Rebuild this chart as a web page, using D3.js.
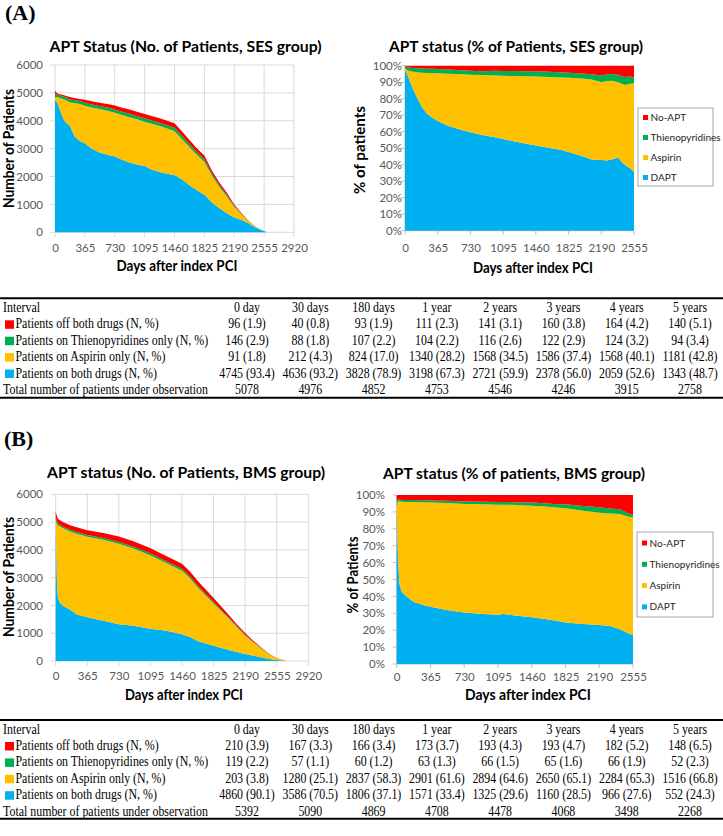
<!DOCTYPE html>
<html>
<head>
<meta charset="utf-8">
<script src="https://cdn.jsdelivr.net/npm/d3@7"></script>
<style>
  body {margin: 0; background: #fff;}
  svg {display: block;}
</style>
</head>
<body>
<svg id="fig" width="723" height="836"></svg>
<script>
//Variables
const keys = ["dapt", "aspirin", "thieno", "noapt"]; //stack order, bottom -> top
const colorArr = ["#00b0f0", "#ffc000", "#00b050", "#ff0000"];
const legendNames = ["DAPT", "Aspirin", "Thienopyridines", "No-APT"];
const dayTicks = [0, 365, 730, 1095, 1460, 1825, 2190, 2555, 2920];
const countTicks = [0, 1000, 2000, 3000, 4000, 5000, 6000];
const pctTicks = [0, 10, 20, 30, 40, 50, 60, 70, 80, 90, 100];

//SES group, number of patients
const sesDays = [0, 30, 60, 100, 140, 180, 240, 300, 365, 450, 545, 640, 730, 820, 910, 1000, 1095, 1180, 1280, 1370, 1460, 1550, 1640, 1730, 1825, 1920, 2010, 2100, 2190, 2280, 2370, 2460, 2555, 2600];
const sesDapt = [4745, 4636, 4400, 4080, 3910, 3828, 3440, 3270, 3198, 3000, 2860, 2780, 2721, 2600, 2500, 2430, 2378, 2250, 2160, 2100, 2059, 1900, 1700, 1520, 1343, 1060, 860, 680, 530, 440, 320, 150, 35, 0];
const sesAsp = [91, 212, 418, 695, 820, 824, 1200, 1330, 1340, 1480, 1565, 1580, 1568, 1610, 1630, 1620, 1586, 1640, 1650, 1620, 1568, 1450, 1360, 1270, 1181, 960, 760, 600, 390, 200, 60, 20, 3, 0];
const sesThieno = [146, 88, 90, 95, 100, 107, 105, 105, 104, 105, 108, 112, 116, 115, 118, 120, 122, 120, 120, 120, 124, 115, 110, 100, 94, 80, 65, 60, 35, 20, 10, 5, 1, 0];
const sesNoApt = [96, 40, 42, 50, 60, 93, 75, 80, 111, 115, 117, 128, 141, 145, 152, 150, 160, 160, 160, 160, 164, 155, 150, 130, 140, 100, 90, 80, 45, 20, 10, 5, 1, 0];

//SES group, % of patients
const sesPctDays = [0, 30, 56, 93, 130, 186, 242, 298, 365, 484, 633, 730, 857, 1005, 1095, 1228, 1340, 1460, 1600, 1749, 1825, 1972, 2083, 2195, 2250, 2307, 2381, 2420, 2456, 2511, 2555];
const sesPctDapt = [97.5, 94.0, 90.3, 85.2, 81.2, 75.2, 71.1, 68.7, 66.5, 63.4, 61.0, 59.6, 58.0, 56.6, 55.6, 54.0, 52.9, 51.7, 50.3, 48.9, 47.7, 45.3, 43.2, 42.8, 42.5, 43.2, 44.4, 41.5, 39.8, 37.8, 35.8];
const sesPctAsp = [0.8, 3.3, 6.5, 11.2, 14.9, 20.6, 24.5, 26.8, 28.9, 31.7, 33.8, 34.9, 36.3, 37.5, 38.3, 39.7, 40.7, 41.8, 42.9, 44.0, 45.0, 46.9, 48.4, 47.2, 48.3, 47.7, 45.6, 47.5, 48.5, 51.2, 53.5];
const sesPctThieno = [1.2, 1.7, 2.0, 2.2, 2.4, 2.6, 2.6, 2.6, 2.6, 2.6, 2.5, 2.5, 2.3, 2.8, 2.9, 3.1, 3.1, 3.1, 3.2, 3.2, 3.1, 3.1, 3.2, 4.0, 3.8, 4.1, 4.5, 4.6, 4.9, 4.5, 3.6];
const sesPctNoApt = [0.5, 1.0, 1.2, 1.4, 1.5, 1.6, 1.8, 1.9, 2.0, 2.3, 2.7, 3.0, 3.4, 3.1, 3.2, 3.2, 3.3, 3.4, 3.6, 3.9, 4.2, 4.7, 5.2, 6.0, 5.4, 5.0, 5.5, 6.4, 6.8, 6.5, 7.1];

//BMS group, number of patients
const bmsDays = [0, 8, 15, 27, 50, 89, 166, 243, 365, 551, 730, 898, 1090, 1283, 1460, 1552, 1648, 1825, 1979, 2080, 2190, 2290, 2383, 2470, 2555, 2670];
const bmsDapt = [4860, 3830, 2750, 2270, 2090, 1970, 1850, 1670, 1571, 1450, 1325, 1270, 1160, 1090, 966, 860, 710, 552, 410, 330, 250, 190, 130, 70, 35, 0];
const bmsAsp = [203, 1150, 2180, 2610, 2750, 2797, 2810, 2912, 2901, 2910, 2894, 2780, 2650, 2430, 2284, 2120, 1920, 1516, 1180, 940, 670, 470, 305, 165, 65, 0];
const bmsThieno = [119, 100, 90, 60, 58, 58, 60, 62, 63, 64, 66, 66, 65, 65, 66, 63, 60, 52, 40, 32, 25, 18, 12, 6, 3, 0];
const bmsNoApt = [210, 200, 190, 170, 168, 167, 166, 170, 173, 186, 193, 194, 193, 185, 182, 177, 170, 148, 110, 70, 65, 35, 23, 10, 5, 0];

//BMS group, % of patients
const bmsPctDays = [0, 14, 29, 54, 108, 180, 288, 365, 540, 730, 937, 1095, 1153, 1300, 1460, 1600, 1730, 1825, 2018, 2190, 2306, 2414, 2505, 2555];
const bmsPctDapt = [90.1, 63.5, 47.7, 42.8, 39.8, 36.9, 34.9, 33.9, 32.0, 30.4, 29.6, 29.2, 29.6, 28.6, 27.6, 26.6, 25.6, 24.5, 23.7, 23.1, 22.5, 20.5, 18.1, 17.2];
const bmsPctAsp = [3.8, 33.0, 48.5, 53.2, 56.1, 58.9, 60.8, 61.6, 63.3, 64.3, 64.9, 65.1, 64.7, 65.5, 66.1, 66.6, 67.0, 67.6, 67.0, 66.4, 66.6, 68.3, 69.1, 69.6];
const bmsPctThieno = [2.2, 0.9, 1.1, 1.1, 1.1, 1.2, 1.2, 1.3, 1.3, 1.5, 1.5, 1.6, 1.6, 1.6, 1.8, 1.9, 2.0, 2.4, 2.8, 3.2, 2.9, 2.7, 2.0, 1.4];
const bmsPctNoApt = [3.9, 2.6, 2.7, 2.9, 3.0, 3.0, 3.1, 3.2, 3.4, 3.8, 4.0, 4.1, 4.1, 4.3, 4.5, 4.9, 5.4, 5.5, 6.5, 7.3, 8.0, 8.5, 10.8, 11.8];

//Tables
const intervals = ["0 day", "30 days", "180 days", "1 year", "2 years", "3 years", "4 years", "5 years"];
const rowLabels = ["Patients off both drugs (N, %)", "Patients on Thienopyridines only (N, %)", "Patients on Aspirin only (N, %)", "Patients on both drugs (N, %)"];
const rowColors = ["#ff0000", "#00b050", "#ffc000", "#00b0f0"];
const sesOff = ["96 (1.9)", "40 (0.8)", "93 (1.9)", "111 (2.3)", "141 (3.1)", "160 (3.8)", "164 (4.2)", "140 (5.1)"];
const sesThienoOnly = ["146 (2.9)", "88 (1.8)", "107 (2.2)", "104 (2.2)", "116 (2.6)", "122 (2.9)", "124 (3.2)", "94 (3.4)"];
const sesAspOnly = ["91 (1.8)", "212 (4.3)", "824 (17.0)", "1340 (28.2)", "1568 (34.5)", "1586 (37.4)", "1568 (40.1)", "1181 (42.8)"];
const sesBoth = ["4745 (93.4)", "4636 (93.2)", "3828 (78.9)", "3198 (67.3)", "2721 (59.9)", "2378 (56.0)", "2059 (52.6)", "1343 (48.7)"];
const sesTotal = ["5078", "4976", "4852", "4753", "4546", "4246", "3915", "2758"];
const bmsOff = ["210 (3.9)", "167 (3.3)", "166 (3.4)", "173 (3.7)", "193 (4.3)", "193 (4.7)", "182 (5.2)", "148 (6.5)"];
const bmsThienoOnly = ["119 (2.2)", "57 (1.1)", "60 (1.2)", "63 (1.3)", "66 (1.5)", "65 (1.6)", "66 (1.9)", "52 (2.3)"];
const bmsAspOnly = ["203 (3.8)", "1280 (25.1)", "2837 (58.3)", "2901 (61.6)", "2894 (64.6)", "2650 (65.1)", "2284 (65.3)", "1516 (66.8)"];
const bmsBoth = ["4860 (90.1)", "3586 (70.5)", "1806 (37.1)", "1571 (33.4)", "1325 (29.6)", "1160 (28.5)", "966 (27.6)", "552 (24.3)"];
const bmsTotal = ["5392", "5090", "4869", "4708", "4478", "4068", "3498", "2268"];

const svg = d3.select("#fig");
const sans = "Lato, 'Open Sans', sans-serif";
const serif = "'Liberation Serif', 'Times New Roman', serif";

//Functions
function fit(sel, w) {
  return sel.attr("textLength", w).attr("lengthAdjust", "spacingAndGlyphs");
}

function drawChart(c) {
  let rows = c.days.map((d, i) => ({day: d, dapt: c.dapt[i], aspirin: c.asp[i], thieno: c.thieno[i], noapt: c.noapt[i]}));
  let series = d3.stack().keys(keys)(rows);
  let xMax = c.pct ? 2555 : 2920;
  let x = d3.scaleLinear().domain([0, xMax]).range([c.left, c.right]);
  let y = d3.scaleLinear().domain([0, c.pct ? 100 : 6000]).range([c.bottom, c.top]);
  let xT = dayTicks.filter(d => d <= xMax);
  let yT = c.pct ? pctTicks : countTicks;
  let g = svg.append("g");

  //grid (count charts) or short ticks (percent charts)
  if (!c.pct) {
    g.selectAll(".hg").data(yT).enter().append("line")
      .attr("x1", c.left - 5).attr("x2", c.right).attr("y1", d => y(d)).attr("y2", d => y(d))
      .attr("stroke", "#d9d9d9").attr("stroke-width", 1);
    g.selectAll(".vg").data(xT).enter().append("line")
      .attr("x1", d => x(d)).attr("x2", d => x(d)).attr("y1", c.top).attr("y2", c.bottom + 5)
      .attr("stroke", "#d9d9d9").attr("stroke-width", 1);
  } else {
    g.selectAll(".ht").data(yT).enter().append("line")
      .attr("x1", c.left - 4).attr("x2", c.left).attr("y1", d => y(d)).attr("y2", d => y(d))
      .attr("stroke", "#bfbfbf");
    g.selectAll(".vt").data(xT).enter().append("line")
      .attr("x1", d => x(d)).attr("x2", d => x(d)).attr("y1", c.bottom).attr("y2", c.bottom + 4)
      .attr("stroke", "#bfbfbf");
    g.append("line").attr("x1", c.left).attr("x2", c.left).attr("y1", c.top).attr("y2", c.bottom).attr("stroke", "#bfbfbf");
    g.append("line").attr("x1", c.left).attr("x2", c.right).attr("y1", c.bottom).attr("y2", c.bottom).attr("stroke", "#bfbfbf");
  }

  //stacked areas
  let area = d3.area().x(d => x(d.data.day)).y0(d => y(d[0])).y1(d => y(d[1]));
  g.selectAll(".layer").data(series).enter().append("path")
    .attr("d", area).attr("fill", (d, i) => colorArr[i]);

  //axes
  let yAxis = d3.axisLeft(y).tickValues(yT).tickSize(0).tickPadding(0)
    .tickFormat(d => c.pct ? d + "%" : String(d));
  g.append("g").attr("class", "yax").attr("transform", "translate(" + c.yLab + ",0)").call(yAxis)
    .call(a => a.select(".domain").remove());
  let xAxis = d3.axisBottom(x).tickValues(xT).tickSize(0).tickPadding(0).tickFormat(d => String(d));
  g.append("g").attr("class", "xax").attr("transform", "translate(0," + c.xLab + ")").call(xAxis)
    .call(a => a.select(".domain").remove());
  g.selectAll(".tick text").attr("font-family", sans).attr("font-size", 11.5).attr("fill", "#595959");
  g.selectAll(".xax .tick text").attr("dy", "0.71em");

  //titles
  fit(g.append("text").text(c.title).attr("x", c.tx).attr("y", c.ty).attr("text-anchor", "middle")
    .attr("font-family", sans).attr("font-weight", "bold").attr("font-size", 16), c.tw);
  fit(g.append("text").text("Days after index PCI").attr("x", c.xtx).attr("y", c.xty).attr("text-anchor", "middle")
    .attr("font-family", sans).attr("font-weight", "bold").attr("font-size", 15), c.xtw);
  fit(g.append("text").text(c.yTitle).attr("transform", "translate(" + c.ytx + "," + c.yty + ") rotate(-90)")
    .attr("text-anchor", "middle").attr("dy", "0.35em")
    .attr("font-family", sans).attr("font-weight", "bold").attr("font-size", 15), c.ytw);

  //legend
  if (c.legend) {
    let L = c.legend;
    g.append("rect").attr("x", L.x).attr("y", L.y).attr("width", L.w).attr("height", L.h)
      .attr("fill", "#fff").attr("stroke", "#a6a6a6");
    let order = [3, 2, 1, 0];
    order.forEach((k, i) => {
      let cy = L.y + L.first + i * L.step;
      g.append("rect").attr("x", L.x + 5).attr("y", cy - 2.5).attr("width", 5).attr("height", 5).attr("fill", colorArr[k]);
      g.append("text").text(legendNames[k]).attr("x", L.x + 12.5).attr("y", cy).attr("dy", "0.35em")
        .attr("font-family", sans).attr("font-size", 10).attr("fill", "#262626");
    });
  }
}

function cell(g, txt, x, y, anchor) {
  g.append("text").text(txt)
    .attr("transform", "translate(" + x + "," + y + ") scale(0.85,1)")
    .attr("text-anchor", anchor).attr("font-family", serif).attr("font-size", 14).attr("fill", "#000");
}

function drawTable(t) {
  let g = svg.append("g");
  let col = d3.scalePoint().domain(intervals).range([247, 690]);
  let rowY = d3.scaleLinear().domain([0, 5]).range([t.top + 13.6, t.top + 95.6]);
  g.append("line").attr("x1", 0).attr("x2", 723).attr("y1", t.top).attr("y2", t.top).attr("stroke", "#000").attr("stroke-width", 2);
  g.append("line").attr("x1", 0).attr("x2", 723).attr("y1", t.bottom).attr("y2", t.bottom).attr("stroke", "#000").attr("stroke-width", 2);
  cell(g, "Interval", 3, rowY(0), "start");
  intervals.forEach(d => cell(g, d, col(d), rowY(0), "middle"));
  t.rows.forEach((r, i) => {
    g.append("rect").attr("x", 5).attr("y", rowY(i + 1) - 8).attr("width", 9).attr("height", 8.5).attr("fill", rowColors[i]);
    cell(g, rowLabels[i], 15.5, rowY(i + 1), "start");
    r.forEach((v, j) => cell(g, v, col(intervals[j]), rowY(i + 1), "middle"));
  });
  cell(g, "Total number of patients under observation", 3, rowY(5), "start");
  t.total.forEach((v, j) => cell(g, v, col(intervals[j]), rowY(5), "middle"));
}

//Execute
svg.append("text").text("(A)").attr("x", 5).attr("y", 20).attr("font-family", serif).attr("font-weight", "bold").attr("font-size", 22);
svg.append("text").text("(B)").attr("x", 4).attr("y", 446).attr("font-family", serif).attr("font-weight", "bold").attr("font-size", 22);

drawChart({days: sesDays, dapt: sesDapt, asp: sesAsp, thieno: sesThieno, noapt: sesNoApt, pct: false,
  left: 55, right: 294, top: 65, bottom: 232.3, yLab: 43, xLab: 244,
  title: "APT Status (No. of Patients, SES group)", tx: 185.5, ty: 51.5, tw: 272,
  xtx: 177, xty: 271, xtw: 121, yTitle: "Number of Patients", ytx: 9, yty: 148.5, ytw: 119});

drawChart({days: sesPctDays, dapt: sesPctDapt, asp: sesPctAsp, thieno: sesPctThieno, noapt: sesPctNoApt, pct: true,
  left: 405, right: 634, top: 65.7, bottom: 230.7, yLab: 402, xLab: 244,
  title: "APT status (% of Patients, SES group)", tx: 516, ty: 51.5, tw: 254,
  xtx: 533, xty: 273, xtw: 120, yTitle: "% of patients", ytx: 360, yty: 150, ytw: 88,
  legend: {x: 638, y: 108, w: 75, h: 78, first: 9.5, step: 20}});

drawChart({days: bmsDays, dapt: bmsDapt, asp: bmsAsp, thieno: bmsThieno, noapt: bmsNoApt, pct: false,
  left: 55.7, right: 308.3, top: 494.3, bottom: 661, yLab: 43, xLab: 672,
  title: "APT status (No. of Patients, BMS group)", tx: 186, ty: 478, tw: 278,
  xtx: 184, xty: 700, xtw: 118, yTitle: "Number of Patients", ytx: 9, yty: 577, ytw: 120});

drawChart({days: bmsPctDays, dapt: bmsPctDapt, asp: bmsPctAsp, thieno: bmsPctThieno, noapt: bmsPctNoApt, pct: true,
  left: 396.7, right: 633, top: 495, bottom: 664, yLab: 385, xLab: 673,
  title: "APT status (% of patients, BMS group)", tx: 514, ty: 479, tw: 262,
  xtx: 528, xty: 700, xtw: 126, yTitle: "% of Patients", ytx: 353, yty: 575, ytw: 77,
  legend: {x: 637, y: 532, w: 76, h: 85, first: 11, step: 21.3}});

drawTable({top: 298.3, bottom: 397.7, rows: [sesOff, sesThienoOnly, sesAspOnly, sesBoth], total: sesTotal});
drawTable({top: 720, bottom: 818.7, rows: [bmsOff, bmsThienoOnly, bmsAspOnly, bmsBoth], total: bmsTotal});
</script>
</body>
</html>
